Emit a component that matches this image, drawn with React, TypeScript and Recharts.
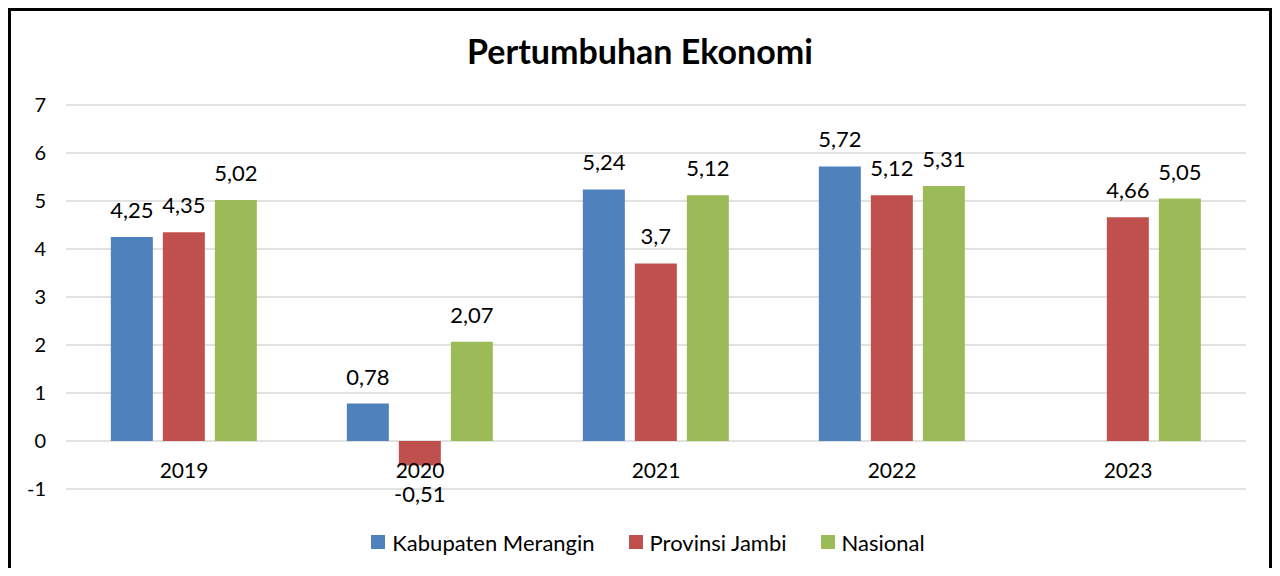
import {
  BarChart,
  Bar,
  XAxis,
  YAxis,
  CartesianGrid,
  Legend,
  LabelList,
} from "recharts";

const years = ["2019", "2020", "2021", "2022", "2023"];
const merangin = [4.25, 0.78, 5.24, 5.72, null];
const jambi = [4.35, -0.51, 3.7, 5.12, 4.66];
const nasional = [5.02, 2.07, 5.12, 5.31, 5.05];
const yTicks = [-1, 0, 1, 2, 3, 4, 5, 6, 7];

const seriesInfo = [
  { key: "merangin", name: "Kabupaten Merangin", color: "#4F81BD" },
  { key: "jambi", name: "Provinsi Jambi", color: "#C0504D" },
  { key: "nasional", name: "Nasional", color: "#9BBB59" },
];

const data = years.map((year, i) => ({
  year,
  merangin: merangin[i],
  jambi: jambi[i],
  nasional: nasional[i],
}));

const font = "Lato, 'Liberation Sans', sans-serif";

const fmt = (v: any) =>
  v === null || v === undefined ? "" : String(v).replace(".", ",");

function YearTick(props: any) {
  const { x, y, payload } = props;
  return (
    <text
      x={x}
      y={y - 28}
      textAnchor="middle"
      dominantBaseline="central"
      fontSize={21}
      fontFamily={font}
      fill="#000"
    >
      {payload.value}
    </text>
  );
}

function ValueLabel(props: any) {
  const { x, y, width, height, value } = props;
  if (value === null || value === undefined) return null;
  const top = Math.min(y, y + height);
  const bottom = Math.max(y, y + height);
  const ty = value >= 0 ? top - 19 : bottom + 37;
  return (
    <text
      x={x + width / 2}
      y={ty}
      textAnchor="middle"
      fontSize={22}
      fontFamily={font}
      fill="#000"
    >
      {fmt(value)}
    </text>
  );
}

function LegendContent(props: any) {
  const { payload } = props;
  const items = seriesInfo
    .map((s) => payload.find((p: any) => p.value === s.name))
    .filter(Boolean);
  return (
    <div
      style={{
        display: "flex",
        justifyContent: "center",
        gap: 34,
        height: 24,
        fontFamily: font,
        fontSize: 22,
        color: "#000",
        paddingLeft: 50,
      }}
    >
      {items.map((p: any) => (
        <div key={p.value} style={{ display: "flex", alignItems: "center" }}>
          <span
            style={{
              width: 14,
              height: 14,
              background: p.color,
              marginRight: 7,
              display: "inline-block",
            }}
          />
          {p.value}
        </div>
      ))}
    </div>
  );
}

export default function App() {
  return (
    <div style={{ position: "relative", margin: -8, width: 1280, height: 576, overflow: "hidden", background: "#fff" }}>
      <div
        style={{
          position: "absolute",
          top: 30,
          width: 1280,
          textAlign: "center",
          fontFamily: font,
          fontWeight: "bold",
          fontSize: 34,
          color: "#000",
        }}
      >
        Pertumbuhan Ekonomi
      </div>
      <div style={{ position: "absolute", left: 0, top: 0 }}>
        <BarChart
          width={1280}
          height={576}
          data={data}
          margin={{ top: 105, right: 34, left: 0, bottom: 0 }}
          barGap={10}
          barCategoryGap="19%"
        >
          <CartesianGrid vertical={false} stroke="#d9d9d9" strokeWidth={1.5} />
          <XAxis
            dataKey="year"
            axisLine={false}
            tickLine={false}
            tick={<YearTick />}
            height={63}
          />
          <YAxis
            domain={[-1, 7]}
            ticks={yTicks}
            axisLine={false}
            tickLine={false}
            tickSize={0}
            tickMargin={20}
            width={66}
            interval={0}
            tick={{ fontSize: 20, fontFamily: font, fill: "#000" }}
          />
          <Legend
            verticalAlign="bottom"
            content={<LegendContent />}
            wrapperStyle={{ bottom: 22 }}
          />
          {seriesInfo.map((s) => (
            <Bar
              key={s.key}
              dataKey={s.key}
              name={s.name}
              fill={s.color}
              isAnimationActive={false}
            >
              <LabelList dataKey={s.key} content={<ValueLabel />} />
            </Bar>
          ))}
        </BarChart>
      </div>
      <svg
        width={1280}
        height={576}
        style={{ position: "absolute", left: 0, top: 0, pointerEvents: "none" }}
      >
        <path
          d="M9.5,600 V9.5 H1270.5 V600"
          fill="none"
          stroke="#000"
          strokeWidth={3}
        />
      </svg>
    </div>
  );
}
